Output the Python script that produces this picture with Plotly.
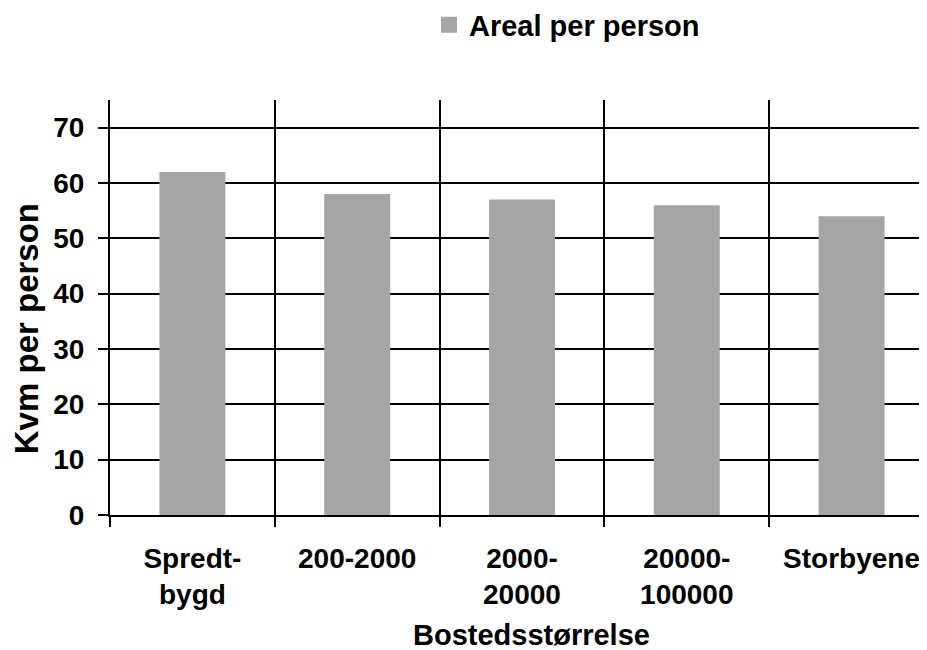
import plotly.graph_objects as go

categories = ["Spredt-<br>bygd", "200-2000", "2000-<br>20000", "20000-<br>100000", "Storbyene"]
values = [62, 58, 57, 56, 54]
series_name = "Areal per person"
y_ticks = [0, 10, 20, 30, 40, 50, 60, 70]
x_title = "Bostedsstørrelse"
y_title = "Kvm per person"

FONT = "Liberation Sans, Arial, sans-serif"
BAR = "#a5a5a5"

# page body has an 8px margin; figure is sized so it ends at the window edge
OFF = 8
W, H = 927 - OFF, 650 - OFF
L, T = 110 - OFF, 100 - OFF
B = 650 - 514.6
PW = W - L
PH = H - T - B

fig = go.Figure()
fig.add_trace(go.Bar(x=categories, y=values, marker=dict(color=BAR, line=dict(width=0)),
                     width=0.4, showlegend=False, name=series_name))
# legend entry
fig.add_trace(go.Scatter(x=[None], y=[None], mode="markers", name=series_name,
                         marker=dict(symbol="square", size=16, color=BAR)))

fig.update_layout(
    width=W, height=H,
    margin=dict(l=L, r=0, t=T, b=B, autoexpand=False),
    paper_bgcolor="white", plot_bgcolor="white",
    font=dict(family=FONT, size=28, color="black"),
    showlegend=True,
    legend=dict(x=(421 - L) / PW, xanchor="left", y=1 + (T - 17) / PH, yanchor="middle",
                font=dict(family=FONT, size=29, color="black", weight="bold"),
                bgcolor="rgba(0,0,0,0)"),
    xaxis=dict(type="category", tickson="boundaries", range=[-0.5, 4.4576],
               showgrid=True, gridcolor="black", gridwidth=2,
               showline=True, linecolor="black", linewidth=2,
               ticks="outside", ticklen=10, tickwidth=2, tickcolor="black",
               tickfont=dict(family=FONT, size=28, color="black", weight="bold"),
               ticklabelstandoff=17, automargin=False),
    yaxis=dict(range=[0, 75], tickvals=y_ticks,
               showgrid=True, gridcolor="black", gridwidth=2, zeroline=False,
               showline=True, linecolor="black", linewidth=2,
               ticks="outside", ticklen=10, tickwidth=2, tickcolor="black",
               tickfont=dict(family=FONT, size=28, color="black", weight="bold"),
               ticklabelstandoff=8, automargin=False),
    annotations=[
        dict(text=x_title, xref="paper", yref="paper",
             x=(523 - L) / PW, y=-(626 - (H - B)) / PH, xanchor="center", yanchor="middle",
             showarrow=False, font=dict(family=FONT, size=29, color="black", weight="bold")),
        dict(text=y_title, xref="paper", yref="paper", textangle=-90,
             x=-(L - 18) / PW, y=((H - B) - 321) / PH, xanchor="center", yanchor="middle",
             showarrow=False, font=dict(family=FONT, size=33, color="black", weight="bold")),
    ],
)

fig.write_html("out.html")
